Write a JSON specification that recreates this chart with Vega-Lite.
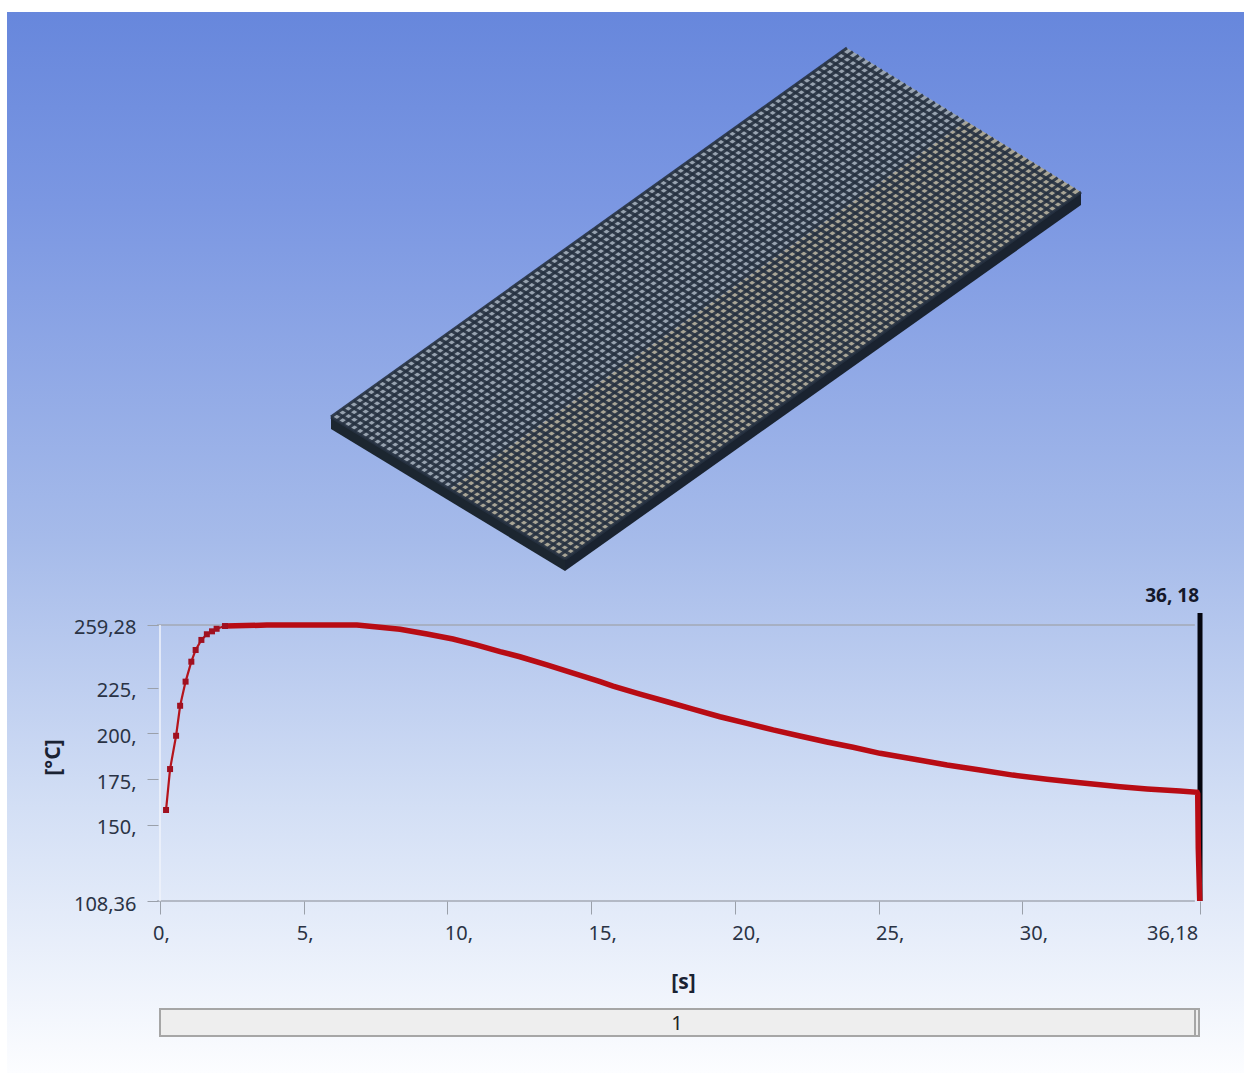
{"$schema":"https://vega.github.io/schema/vega-lite/v6.json","width":1244,"height":1073,"padding":0,"autosize":"none","background":"white","config":{"view":{"stroke":null},"font":"Noto Sans"},
"datasets":{
"mesh":[{"a":847,"b":48,"c":331,"d":417},{"a":852.9,"b":51.6,"c":336.9,"d":420.6},{"a":858.7,"b":55.2,"c":342.7,"d":424.1},{"a":864.6,"b":58.8,"c":348.6,"d":427.7},{"a":870.4,"b":62.4,"c":354.4,"d":431.2},{"a":876.3,"b":66,"c":360.3,"d":434.8},{"a":882.1,"b":69.6,"c":366.1,"d":438.3},{"a":888,"b":73.2,"c":372,"d":441.9},{"a":893.8,"b":76.8,"c":377.8,"d":445.4},{"a":899.7,"b":80.4,"c":383.7,"d":449},{"a":905.5,"b":84,"c":389.5,"d":452.5},{"a":911.4,"b":87.6,"c":395.4,"d":456.1},{"a":917.2,"b":91.2,"c":401.2,"d":459.6},{"a":923.1,"b":94.8,"c":407.1,"d":463.2},{"a":928.9,"b":98.4,"c":412.9,"d":466.7},{"a":934.8,"b":102,"c":418.8,"d":470.3},{"a":940.6,"b":105.6,"c":424.6,"d":473.8},{"a":946.5,"b":109.2,"c":430.5,"d":477.4},{"a":952.3,"b":112.8,"c":436.3,"d":480.9},{"a":958.2,"b":116.4,"c":442.2,"d":484.5},{"a":964,"b":120,"c":448,"d":488},{"a":969.9,"b":123.6,"c":453.9,"d":491.6},{"a":975.7,"b":127.2,"c":459.7,"d":495.1},{"a":981.6,"b":130.8,"c":465.6,"d":498.7},{"a":987.4,"b":134.4,"c":471.4,"d":502.2},{"a":993.3,"b":138,"c":477.3,"d":505.8},{"a":999.1,"b":141.6,"c":483.1,"d":509.3},{"a":1005,"b":145.2,"c":489,"d":512.9},{"a":1010.8,"b":148.8,"c":494.8,"d":516.4},{"a":1016.7,"b":152.4,"c":500.7,"d":520},{"a":1022.5,"b":156,"c":506.5,"d":523.5},{"a":1028.4,"b":159.6,"c":512.4,"d":527.1},{"a":1034.2,"b":163.2,"c":518.2,"d":530.6},{"a":1040.1,"b":166.8,"c":524.1,"d":534.2},{"a":1045.9,"b":170.4,"c":529.9,"d":537.7},{"a":1051.8,"b":174,"c":535.8,"d":541.3},{"a":1057.6,"b":177.6,"c":541.6,"d":544.8},{"a":1063.5,"b":181.2,"c":547.5,"d":548.4},{"a":1069.3,"b":184.8,"c":553.3,"d":551.9},{"a":1075.2,"b":188.4,"c":559.2,"d":555.5},{"a":1081,"b":192,"c":565,"d":559},
{"a":841.3,"b":52.1,"c":1075.3,"d":196.1},{"a":835.5,"b":56.2,"c":1069.5,"d":200.2},{"a":829.8,"b":60.3,"c":1063.8,"d":204.2},{"a":824.1,"b":64.4,"c":1058.1,"d":208.3},{"a":818.3,"b":68.5,"c":1052.3,"d":212.4},{"a":812.6,"b":72.6,"c":1046.6,"d":216.5},{"a":806.9,"b":76.7,"c":1040.9,"d":220.5},{"a":801.1,"b":80.8,"c":1035.1,"d":224.6},{"a":795.4,"b":84.9,"c":1029.4,"d":228.7},{"a":789.7,"b":89,"c":1023.7,"d":232.8},{"a":783.9,"b":93.1,"c":1017.9,"d":236.9},{"a":778.2,"b":97.2,"c":1012.2,"d":240.9},{"a":772.5,"b":101.3,"c":1006.5,"d":245},{"a":766.7,"b":105.4,"c":1000.7,"d":249.1},{"a":761,"b":109.5,"c":995,"d":253.2},{"a":755.3,"b":113.6,"c":989.3,"d":257.2},{"a":749.5,"b":117.7,"c":983.5,"d":261.3},{"a":743.8,"b":121.8,"c":977.8,"d":265.4},{"a":738.1,"b":125.9,"c":972.1,"d":269.5},{"a":732.3,"b":130,"c":966.3,"d":273.6},{"a":726.6,"b":134.1,"c":960.6,"d":277.6},{"a":720.9,"b":138.2,"c":954.9,"d":281.7},{"a":715.1,"b":142.3,"c":949.1,"d":285.8},{"a":709.4,"b":146.4,"c":943.4,"d":289.9},{"a":703.7,"b":150.5,"c":937.7,"d":294},{"a":697.9,"b":154.6,"c":931.9,"d":298},{"a":692.2,"b":158.7,"c":926.2,"d":302.1},{"a":686.5,"b":162.8,"c":920.5,"d":306.2},{"a":680.7,"b":166.9,"c":914.7,"d":310.3},{"a":675,"b":171,"c":909,"d":314.3},{"a":669.3,"b":175.1,"c":903.3,"d":318.4},{"a":663.5,"b":179.2,"c":897.5,"d":322.5},{"a":657.8,"b":183.3,"c":891.8,"d":326.6},{"a":652.1,"b":187.4,"c":886.1,"d":330.7},{"a":646.3,"b":191.5,"c":880.3,"d":334.7},{"a":640.6,"b":195.6,"c":874.6,"d":338.8},{"a":634.9,"b":199.7,"c":868.9,"d":342.9},{"a":629.1,"b":203.8,"c":863.1,"d":347},{"a":623.4,"b":207.9,"c":857.4,"d":351},{"a":617.7,"b":212,"c":851.7,"d":355.1},{"a":611.9,"b":216.1,"c":845.9,"d":359.2},{"a":606.2,"b":220.2,"c":840.2,"d":363.3},{"a":600.5,"b":224.3,"c":834.5,"d":367.4},{"a":594.7,"b":228.4,"c":828.7,"d":371.4},{"a":589,"b":232.5,"c":823,"d":375.5},{"a":583.3,"b":236.6,"c":817.3,"d":379.6},{"a":577.5,"b":240.7,"c":811.5,"d":383.7},{"a":571.8,"b":244.8,"c":805.8,"d":387.7},{"a":566.1,"b":248.9,"c":800.1,"d":391.8},{"a":560.4,"b":253,"c":794.4,"d":395.9},{"a":554.6,"b":257.1,"c":788.6,"d":400},{"a":548.9,"b":261.2,"c":782.9,"d":404.1},{"a":543.2,"b":265.3,"c":777.2,"d":408.1},{"a":537.4,"b":269.4,"c":771.4,"d":412.2},{"a":531.7,"b":273.5,"c":765.7,"d":416.3},{"a":526,"b":277.6,"c":760,"d":420.4},{"a":520.2,"b":281.7,"c":754.2,"d":424.4},{"a":514.5,"b":285.8,"c":748.5,"d":428.5},{"a":508.8,"b":289.9,"c":742.8,"d":432.6},{"a":503,"b":294,"c":737,"d":436.7},{"a":497.3,"b":298.1,"c":731.3,"d":440.8},{"a":491.6,"b":302.2,"c":725.6,"d":444.8},{"a":485.8,"b":306.3,"c":719.8,"d":448.9},{"a":480.1,"b":310.4,"c":714.1,"d":453},{"a":474.4,"b":314.5,"c":708.4,"d":457.1},{"a":468.6,"b":318.6,"c":702.6,"d":461.1},{"a":462.9,"b":322.7,"c":696.9,"d":465.2},{"a":457.2,"b":326.8,"c":691.2,"d":469.3},{"a":451.4,"b":330.9,"c":685.4,"d":473.4},{"a":445.7,"b":335,"c":679.7,"d":477.5},{"a":440,"b":339.1,"c":674,"d":481.5},{"a":434.2,"b":343.2,"c":668.2,"d":485.6},{"a":428.5,"b":347.3,"c":662.5,"d":489.7},{"a":422.8,"b":351.4,"c":656.8,"d":493.8},{"a":417,"b":355.5,"c":651,"d":497.9},{"a":411.3,"b":359.6,"c":645.3,"d":501.9},{"a":405.6,"b":363.7,"c":639.6,"d":506},{"a":399.8,"b":367.8,"c":633.8,"d":510.1},{"a":394.1,"b":371.9,"c":628.1,"d":514.2},{"a":388.4,"b":376,"c":622.4,"d":518.2},{"a":382.6,"b":380.1,"c":616.6,"d":522.3},{"a":376.9,"b":384.2,"c":610.9,"d":526.4},{"a":371.2,"b":388.3,"c":605.2,"d":530.5},{"a":365.4,"b":392.4,"c":599.4,"d":534.6},{"a":359.7,"b":396.5,"c":593.7,"d":538.6},{"a":354,"b":400.6,"c":588,"d":542.7},{"a":348.2,"b":404.7,"c":582.2,"d":546.8},{"a":342.5,"b":408.8,"c":576.5,"d":550.9},{"a":336.8,"b":412.9,"c":570.8,"d":554.9},{"a":331,"b":417,"c":565,"d":559}],
"plate":[
{"part":"blue","n":1,"x":847,"y":48},{"part":"blue","n":2,"x":966,"y":121},{"part":"blue","n":3,"x":450,"y":489},{"part":"blue","n":4,"x":331,"y":417},
{"part":"tan","n":1,"x":966,"y":121},{"part":"tan","n":2,"x":1081,"y":192},{"part":"tan","n":3,"x":565,"y":559},{"part":"tan","n":4,"x":450,"y":489},
{"part":"sideL","n":1,"x":331,"y":417},{"part":"sideL","n":2,"x":565,"y":559},{"part":"sideL","n":3,"x":565,"y":571},{"part":"sideL","n":4,"x":331,"y":429},
{"part":"sideR","n":1,"x":565,"y":559},{"part":"sideR","n":2,"x":1081,"y":192},{"part":"sideR","n":3,"x":1081,"y":205},{"part":"sideR","n":4,"x":565,"y":571}],
"curve":[{"t":0.21,"T":158.1},{"t":0.35,"T":180.5},{"t":0.56,"T":198.7},{"t":0.7,"T":215.1},{"t":0.89,"T":228.3},{"t":1.09,"T":239.2},{"t":1.24,"T":245.6},{"t":1.44,"T":251.1},{"t":1.63,"T":254.2},{"t":1.81,"T":255.8},{"t":1.97,"T":257.2},{"t":2.26,"T":258.7},{"t":3.72,"T":259.2},{"t":6.85,"T":259.28},{"t":7.65,"T":258},{"t":8.35,"T":256.9},{"t":9.29,"T":254.3},{"t":10.19,"T":251.6},{"t":11.03,"T":248.3},{"t":11.83,"T":244.7},{"t":12.52,"T":241.9},{"t":13.46,"T":237.4},{"t":14.37,"T":232.9},{"t":15.31,"T":228.3},{"t":15.76,"T":225.9},{"t":16.7,"T":221.5},{"t":17.64,"T":217.3},{"t":18.54,"T":213.3},{"t":19.48,"T":209.1},{"t":20.42,"T":205.5},{"t":21.33,"T":201.9},{"t":22.26,"T":198.6},{"t":23.2,"T":195.3},{"t":24.11,"T":192.4},{"t":25.05,"T":189.1},{"t":26.2,"T":186},{"t":27.38,"T":182.7},{"t":28.53,"T":180},{"t":29.67,"T":177.2},{"t":30.86,"T":174.9},{"t":32.01,"T":173},{"t":33.4,"T":170.8},{"t":34.34,"T":169.6},{"t":35.48,"T":168.5},{"t":36.08,"T":167.8},{"t":36.1,"T":167},{"t":36.12,"T":137},{"t":36.17,"T":108.36}]
},
"resolve":{"scale":{"x":"independent","y":"independent"},"axis":{"x":"independent","y":"independent"}},
"layer":[
{"encoding":{"x":{"type":"quantitative","scale":{"domain":[0,1244],"nice":false,"zero":false},"axis":null},"y":{"type":"quantitative","scale":{"domain":[1073,0],"nice":false,"zero":false},"axis":null}},
"layer":[
{"data":{"values":[{"a":7,"b":1244,"c":12,"d":1073}]},"mark":{"type":"rect","fill":{"gradient":"linear","x1":0,"y1":0,"x2":0,"y2":1,"stops":[{"offset":0,"color":"#6787dc"},{"offset":0.18,"color":"#7b97e2"},{"offset":0.5,"color":"#a6bbea"},{"offset":0.75,"color":"#d3dff5"},{"offset":1,"color":"#fcfdff"}]}},"encoding":{"x":{"field":"a"},"x2":{"field":"b"},"y":{"field":"c"},"y2":{"field":"d"}}},
{"data":{"name":"plate"},"mark":{"type":"line","strokeWidth":0},"encoding":{"x":{"field":"x"},"y":{"field":"y"},"order":{"field":"n","type":"quantitative"},"detail":{"field":"part"},"fill":{"field":"part","type":"nominal","legend":null,"scale":{"domain":["blue","tan","sideL","sideR"],"range":["#98a3b0","#a9a596","#1c2630","#1a2330"]}}}},
{"data":{"name":"mesh"},"mark":{"type":"rule","stroke":"#263140","strokeWidth":3,"strokeOpacity":0.9},"encoding":{"x":{"field":"a"},"y":{"field":"b"},"x2":{"field":"c"},"y2":{"field":"d"}}},
{"data":{"values":[{"a":160,"b":1195,"c":1009,"d":1036},{"a":1195,"b":1199,"c":1009,"d":1036}]},"mark":{"type":"rect","fill":"#eeeeee","stroke":"#a6a6a6","strokeWidth":2},"encoding":{"x":{"field":"a"},"x2":{"field":"b"},"y":{"field":"c"},"y2":{"field":"d"}}},
{"data":{"values":[{"x":677,"y":1024,"s":"1"}]},"mark":{"type":"text","fontSize":20,"font":"Noto Sans","fill":"#222222"},"encoding":{"x":{"field":"x"},"y":{"field":"y"},"text":{"field":"s"}}}
]},
{"encoding":{"x":{"type":"quantitative","scale":{"domain":[-5.566,37.71],"nice":false,"zero":false},"axis":{"orient":"bottom","offset":-172,"values":[0,5,10,15,20,25,30,36.18],"labelExpr":"datum.value==36.18?'36,18':datum.value+','","domain":false,"grid":false,"tickSize":13,"tickColor":"#9aa0aa","labelPadding":9,"labelFontSize":20,"labelFont":"Noto Sans","labelColor":"#2a3345","labelFlush":false,"labelOverlap":false,"labelOffset":{"condition":[{"test":"datum.value==36.18","value":-28},{"test":"datum.value<10","value":1}],"value":11},"title":"[s]","titleFont":"Noto Sans","titleFontSize":21,"titleFontWeight":"bold","titleColor":"#1a2233","titleX":683,"titleY":70,"zindex":1}},"y":{"type":"quantitative","scale":{"domain":[14.32,600.98],"nice":false,"zero":false},"axis":{"orient":"left","offset":-158,"values":[108.36,150,175,200,225,259.28],"labelExpr":"datum.value==108.36?'108,36':datum.value==259.28?'259,28':datum.value+','","domain":false,"grid":false,"tickSize":11,"tickColor":"#9aa0aa","labelPadding":11,"labelFontSize":20,"labelFont":"Noto Sans","labelColor":"#2a3345","labelOverlap":false,"labelFlush":false,"labelOffset":3,"title":"[°C]","titleFont":"Noto Sans","titleFontSize":21,"titleFontWeight":"bold","titleColor":"#1a2233","titleAngle":270,"titleX":-95,"titleY":757,"zindex":1}}},
"layer":[
{"data":{"values":[{"a":-0.1,"b":36,"v":259.28},{"a":-0.1,"b":36,"v":108.36}]},"mark":{"type":"rule","stroke":"#a3a9b5","strokeWidth":1.5},"encoding":{"x":{"field":"a"},"x2":{"field":"b"},"y":{"field":"v"}}},
{"data":{"values":[{"a":0,"v":108.36,"w":259.28}]},"mark":{"type":"rule","stroke":"#f0f3fb","strokeWidth":1.5},"encoding":{"x":{"field":"a"},"y":{"field":"v"},"y2":{"field":"w"}}},
{"data":{"values":[{"a":36.18,"v":108.36,"w":265.8}]},"mark":{"type":"rule","stroke":"#05060f","strokeWidth":5},"encoding":{"x":{"field":"a"},"y":{"field":"v"},"y2":{"field":"w"}}},
{"data":{"name":"curve"},"mark":{"type":"line","stroke":"#b5141c","strokeWidth":2.2},"encoding":{"x":{"field":"t"},"y":{"field":"T"}}},
{"data":{"name":"curve"},"transform":[{"filter":"datum.t>=2"}],"mark":{"type":"line","stroke":"#b80c14","strokeWidth":5.5},"encoding":{"x":{"field":"t"},"y":{"field":"T"}}},
{"data":{"name":"curve"},"transform":[{"filter":"datum.t<2.3"}],"mark":{"type":"point","shape":"square","filled":true,"fill":"#a01020","size":36,"opacity":1},"encoding":{"x":{"field":"t"},"y":{"field":"T"}}},
{"data":{"values":[{"a":36.18,"v":275,"s":"36, 18"}]},"mark":{"type":"text","fontSize":19,"fontWeight":"bold","font":"Noto Sans","fill":"#14182a","align":"right","dx":-1},"encoding":{"x":{"field":"a"},"y":{"field":"v"},"text":{"field":"s"}}}
]}
]}
